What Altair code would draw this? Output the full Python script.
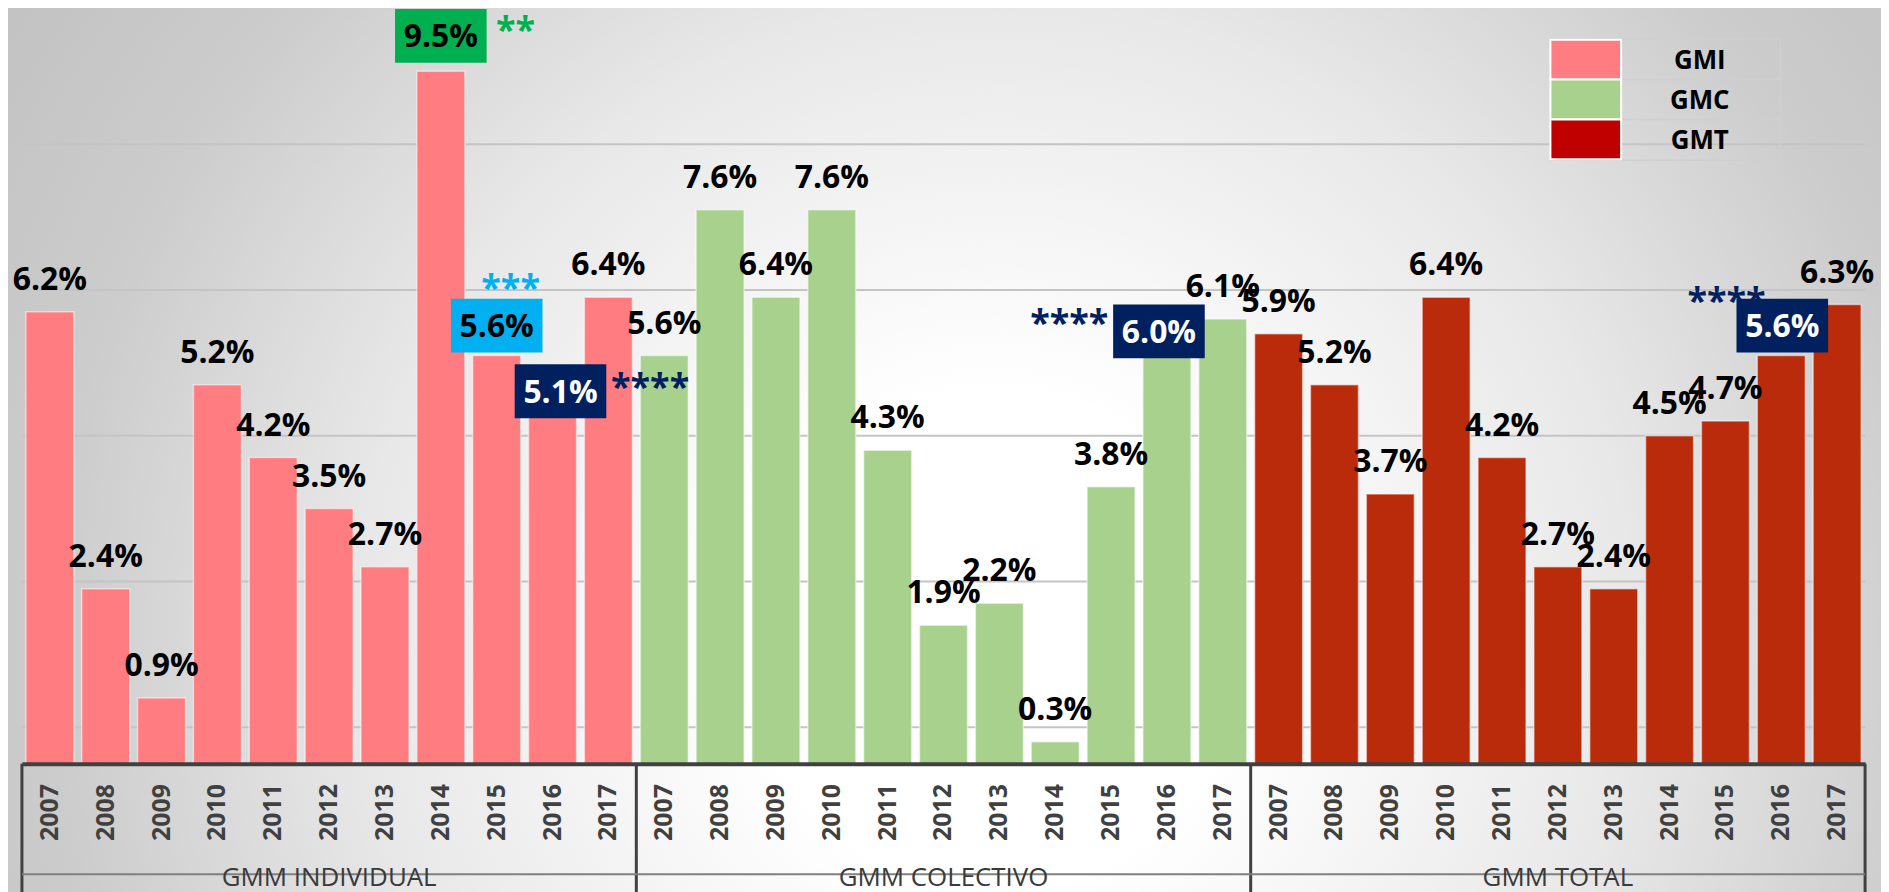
import json
import altair as alt
import pandas as pd

# ---------------- data ----------------
groups = ["GMI", "GMC", "GMT"]
group_titles = ["GMM INDIVIDUAL", "GMM COLECTIVO", "GMM TOTAL"]
years = ["2007", "2008", "2009", "2010", "2011", "2012", "2013", "2014", "2015", "2016", "2017"]
gmi = [6.2, 2.4, 0.9, 5.2, 4.2, 3.5, 2.7, 9.5, 5.6, 5.1, 6.4]
gmc = [5.6, 7.6, 6.4, 7.6, 4.3, 1.9, 2.2, 0.3, 3.8, 6.0, 6.1]
gmt = [5.9, 5.2, 3.7, 6.4, 4.2, 2.7, 2.4, 4.5, 4.7, 5.6, 6.3]
grid_values = [0.5, 2.5, 4.5, 6.5, 8.5]

bar_colors = ["#FF7C80", "#A9D18E", "#BA2B0C"]
legend_colors = ["#FF7C80", "#A9D18E", "#C00000"]

# highlighted values: key, box colour, text colour, stars, star colour
highlight_keys = ["GMI|2014", "GMI|2015", "GMI|2016", "GMC|2016", "GMT|2016"]
highlight_box = ["#00B050", "#00B0F0", "#002060", "#002060", "#002060"]
highlight_text = ["#000000", "#000000", "#FFFFFF", "#FFFFFF", "#FFFFFF"]
highlight_stars = ["**", "***", "****", "****", "****"]
highlight_star_color = ["#00B050", "#00B0F0", "#002060", "#002060", "#002060"]
# layout offsets in px relative to bar top centre: box dx, box dy, stars dx, stars dy
highlight_layout = [(0, -35.6, 75, -29), (0, -30, 14, -56), (8, -0.7, 98, 7),
                    (-8, 5, -98, 9), (1, -30, -55, -43)]

rows = []
for g, vals in zip(groups, [gmi, gmc, gmt]):
    for yr, v in zip(years, vals):
        rows.append({"group": g, "year": yr, "key": f"{g}|{yr}", "value": v})
df = pd.DataFrame(rows)
keys = list(df["key"])
one = pd.DataFrame({"o": [0]})

# ---------------- layout ----------------
W, H = 1851, 757
FONT = "Open Sans"

xscale = alt.Scale(domain=keys, paddingInner=0.14, paddingOuter=0.07)
yscale = alt.Scale(domain=[0, 10.342], nice=False, zero=True)
xaxis = alt.Axis(title="", labelExpr="split(datum.label, '|')[1]", labelAngle=270,
                 labelFont=FONT, labelFontSize=25, labelFontWeight="bold",
                 labelColor="#404040", labelPadding=20, ticks=False, tickSize=0,
                 domainColor="#404040", domainWidth=4, grid=False, zindex=1,
                 labelOverlap=False)


def X(**kw):
    return alt.X("key:N", scale=xscale, axis=xaxis, **kw)


Y = alt.Y("value:Q", scale=yscale, axis=None)

layers = []

# background radial gradient
bg_fill = {"gradient": "radial", "x1": 0.5, "y1": 0.5, "r1": 0, "x2": 0.5, "y2": 0.5, "r2": 0.5,
           "stops": [{"offset": 0, "color": "#ffffff"},
                     {"offset": 0.19, "color": "#ffffff"},
                     {"offset": 0.49, "color": "#e8e8e8"},
                     {"offset": 0.73, "color": "#cccccc"},
                     {"offset": 1.0, "color": "#bdbdbd"}]}
layers.append(alt.Chart(one).mark_rect(fill=bg_fill, strokeWidth=0).encode(
    x=alt.value(-322), x2=alt.value(2278), y=alt.value(-668), y2=alt.value(1932)))

# gridlines
layers.append(alt.Chart(pd.DataFrame({"value": grid_values})).mark_rule(
    color="#c4c4c4", strokeWidth=2).encode(x=alt.value(0), x2=alt.value(W), y=Y))

# bars
layers.append(alt.Chart(df).mark_bar(stroke="#ffffff", strokeOpacity=0.5, strokeWidth=1.5).encode(
    x=X(), y=Y,
    color=alt.Color("group:N", scale=alt.Scale(domain=groups, range=bar_colors), legend=None)))

# plain value labels
layers.append(alt.Chart(df).transform_filter(
    f"indexof({json.dumps(highlight_keys)}, datum.key) < 0"
).transform_calculate(label="format(datum.value, '.1f') + '%'").mark_text(
    font=FONT, fontSize=32, fontWeight="bold", color="#000000", baseline="alphabetic", dy=-22
).encode(x=X(), y=Y, text="label:N"))

# highlighted labels
box_path = "M-1,-0.587H1V0.587H-1Z"
for k, bc, tc, st, sc, (bdx, bdy, sdx, sdy) in zip(highlight_keys, highlight_box, highlight_text,
                                                   highlight_stars, highlight_star_color,
                                                   highlight_layout):
    base = alt.Chart(df).transform_filter(f"datum.key == '{k}'").transform_calculate(
        label="format(datum.value, '.1f') + '%'", stars=f"'{st}'")
    layers.append(base.mark_point(shape=box_path, size=8464, filled=True, opacity=1, color=bc,
                                  strokeWidth=0, xOffset=bdx, yOffset=bdy).encode(x=X(), y=Y))
    layers.append(base.mark_text(font=FONT, fontSize=32, fontWeight="bold", color=tc,
                                 baseline="alphabetic", dx=bdx, dy=bdy + 11.4).encode(
        x=X(), y=Y, text="label:N"))
    layers.append(base.mark_text(font=FONT, fontSize=36, fontWeight="bold", color=sc,
                                 baseline="alphabetic", dx=sdx, dy=sdy).encode(
        x=X(), y=Y, text="stars:N"))

# frame below the axis
layers.append(alt.Chart(pd.DataFrame({"key": [f"{g}|2007" for g in groups]})).mark_rule(
    color="#404040", strokeWidth=3, xOffset=-3.93).encode(
    x=X(bandPosition=0), y=alt.datum(0), y2=alt.value(H + 140)))
layers.append(alt.Chart(pd.DataFrame({"key": ["GMT|2017"]})).mark_rule(
    color="#404040", strokeWidth=3, xOffset=3.93).encode(
    x=X(bandPosition=1), y=alt.datum(0), y2=alt.value(H + 140)))
layers.append(alt.Chart(one).mark_rule(color="#808080", strokeWidth=2).encode(
    x=alt.value(0), x2=alt.value(W), y=alt.value(868)))

# group titles
layers.append(alt.Chart(pd.DataFrame({"key": [f"{g}|2012" for g in groups],
                                      "title": group_titles})).mark_text(
    font=FONT, fontSize=26, color="#3a3a3a", baseline="top").encode(
    x=X(), y=alt.value(859), text="title:N"))

# legend (table style)
layers.append(alt.Chart(one).mark_rect(fillOpacity=0, stroke="#cfcfcf", strokeWidth=1.5).encode(
    x=alt.value(1535), x2=alt.value(1766), y=alt.value(29), y2=alt.value(151)))
for yy in [70, 110]:
    layers.append(alt.Chart(one).mark_rule(color="#cfcfcf", strokeWidth=1.5).encode(
        x=alt.value(1606), x2=alt.value(1766), y=alt.value(yy)))
for i, (name, col) in enumerate(zip(groups, legend_colors)):
    y0 = 30 + 40 * i
    layers.append(alt.Chart(one).mark_rect(fill=col, stroke="#ffffff", strokeWidth=2).encode(
        x=alt.value(1535), x2=alt.value(1606), y=alt.value(y0), y2=alt.value(y0 + 40)))
    layers.append(alt.Chart(pd.DataFrame({"name": [name]})).mark_text(
        font=FONT, fontSize=26, fontWeight="bold", color="#000000", baseline="alphabetic").encode(
        x=alt.value(1685), y=alt.value(y0 + 20 + 9.3), text="name:N"))

chart = alt.layer(*layers).properties(
    width=W, height=H,
    padding={"left": 14, "top": 0, "right": 16, "bottom": 127},
    autosize=alt.AutoSizeParams(type="none"),
).configure_view(strokeWidth=0)

chart.save("out.html", embed_options={"renderer": "svg", "actions": False})
